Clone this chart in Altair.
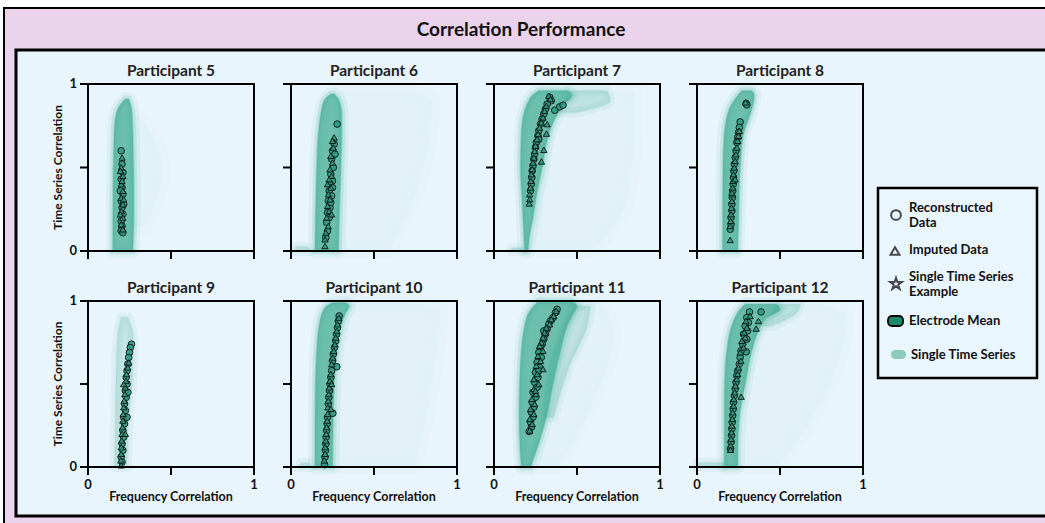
import altair as alt
import pandas as pd

# ---------------------------------------------------------------- data
participants = [5, 6, 7, 8, 9, 10, 11, 12]
tick_values = [0, 0.5, 1]
end_values = [0, 1]
end_labels = ["0", "1"]

# Dense core of the single-time-series cloud: y level, left edge, right edge
cloud_core = {
    5: dict(y=[0.0, 0.2, 0.4, 0.6, 0.75, 0.85, 0.91],
            xl=[0.15, 0.15, 0.152, 0.155, 0.16, 0.18, 0.225],
            xr=[0.27, 0.275, 0.275, 0.272, 0.268, 0.262, 0.245]),
    6: dict(y=[0.0, 0.2, 0.5, 0.7, 0.82, 0.9, 0.94],
            xl=[0.145, 0.148, 0.155, 0.165, 0.18, 0.2, 0.24],
            xr=[0.285, 0.29, 0.3, 0.305, 0.305, 0.29, 0.26]),
    7: dict(y=[0.0, 0.1, 0.2, 0.3, 0.5, 0.7, 0.8, 0.88, 0.93, 0.96],
            xl=[0.185, 0.18, 0.175, 0.17, 0.16, 0.165, 0.175, 0.2, 0.23, 0.27],
            xr=[0.205, 0.215, 0.235, 0.25, 0.29, 0.33, 0.37, 0.42, 0.47, 0.44]),
    8: dict(y=[0.0, 0.2, 0.5, 0.7, 0.85, 0.93, 0.96],
            xl=[0.155, 0.155, 0.157, 0.165, 0.195, 0.245, 0.27],
            xr=[0.245, 0.25, 0.26, 0.28, 0.33, 0.345, 0.33]),
    10: dict(y=[0.0, 0.2, 0.5, 0.7, 0.85, 0.93, 0.97, 0.99],
             xl=[0.145, 0.145, 0.148, 0.155, 0.17, 0.19, 0.215, 0.25],
             xr=[0.25, 0.252, 0.26, 0.275, 0.3, 0.33, 0.35, 0.33]),
    11: dict(y=[0.0, 0.1, 0.3, 0.5, 0.7, 0.85, 0.93, 0.97, 1.0],
             xl=[0.165, 0.158, 0.152, 0.155, 0.165, 0.185, 0.21, 0.24, 0.27],
             xr=[0.22, 0.255, 0.315, 0.355, 0.4, 0.44, 0.48, 0.5, 0.46]),
    12: dict(y=[0.0, 0.1, 0.3, 0.5, 0.7, 0.82, 0.9, 0.95, 0.98],
             xl=[0.165, 0.165, 0.165, 0.167, 0.18, 0.2, 0.23, 0.26, 0.29],
             xr=[0.245, 0.245, 0.255, 0.29, 0.33, 0.37, 0.42, 0.5, 0.48]),
}

# Thinner parts of the cloud (plateaus, weaker clusters, floor strips)
cloud_medium = {
    6: [dict(y=[0.0, 0.025], xl=[0.02, 0.03], xr=[0.12, 0.1])],
    7: [dict(y=[0.83, 0.9, 0.96], xl=[0.38, 0.42, 0.45], xr=[0.5, 0.7, 0.68]),
        dict(y=[0.0, 0.02], xl=[0.1, 0.11], xr=[0.18, 0.17])],
    9: [dict(y=[0.0, 0.3, 0.6, 0.8, 0.9],
             xl=[0.16, 0.165, 0.17, 0.18, 0.2],
             xr=[0.235, 0.245, 0.27, 0.27, 0.24])],
    10: [dict(y=[0.0, 0.025], xl=[0.05, 0.06], xr=[0.12, 0.11])],
    11: [dict(y=[0.3, 0.6, 0.85, 0.97], xl=[0.3, 0.33, 0.42, 0.48], xr=[0.36, 0.45, 0.56, 0.58])],
    12: [dict(y=[0.85, 0.93, 0.98], xl=[0.38, 0.45, 0.5], xr=[0.45, 0.6, 0.62]),
         dict(y=[0.0, 0.025], xl=[0.0, 0.0], xr=[0.17, 0.16])],
}

# Sparse haze of single time series far from the electrode mean
cloud_faint = {
    5: [dict(y=[0.15, 0.5, 0.8], xl=[0.27, 0.27, 0.26], xr=[0.35, 0.45, 0.32])],
    6: [dict(y=[0.01, 0.5, 0.9, 0.96], xl=[0.28, 0.29, 0.29, 0.3], xr=[0.6, 0.8, 0.85, 0.7])],
    7: [dict(y=[0.01, 0.3, 0.8, 0.96], xl=[0.22, 0.27, 0.33, 0.4], xr=[0.6, 0.8, 0.85, 0.85])],
    10: [dict(y=[0.01, 0.5, 0.95, 0.99], xl=[0.25, 0.26, 0.32, 0.34], xr=[0.75, 0.85, 0.9, 0.7])],
    11: [dict(y=[0.01, 0.4, 0.8, 0.99], xl=[0.24, 0.3, 0.4, 0.45], xr=[0.4, 0.6, 0.72, 0.65])],
    12: [dict(y=[0.01, 0.5, 0.9, 0.98], xl=[0.28, 0.29, 0.38, 0.48], xr=[0.5, 0.8, 0.9, 0.75])],
}

# Electrode means: reconstructed (circles) and imputed (triangles)
reconstructed = {
    5: dict(x=[0.20, 0.205, 0.21, 0.20, 0.205, 0.21, 0.20, 0.205, 0.21, 0.20, 0.205, 0.20, 0.21, 0.195, 0.215],
            y=[0.60, 0.52, 0.47, 0.43, 0.38, 0.34, 0.30, 0.26, 0.22, 0.18, 0.15, 0.12, 0.11, 0.36, 0.28]),
    6: dict(x=[0.278, 0.26, 0.25, 0.265, 0.245, 0.255, 0.24, 0.25, 0.235, 0.23, 0.245, 0.225, 0.235, 0.22,
               0.23, 0.215, 0.22, 0.21, 0.24, 0.25],
            y=[0.76, 0.64, 0.60, 0.58, 0.55, 0.50, 0.46, 0.42, 0.40, 0.36, 0.33, 0.30, 0.26, 0.23,
               0.20, 0.17, 0.12, 0.08, 0.29, 0.38]),
    7: dict(x=[0.336, 0.345, 0.32, 0.31, 0.30, 0.29, 0.28, 0.27, 0.265, 0.255, 0.25, 0.245, 0.24, 0.235,
               0.23, 0.228, 0.225, 0.22, 0.366, 0.396, 0.416, 0.27],
            y=[0.92, 0.90, 0.88, 0.85, 0.82, 0.79, 0.76, 0.72, 0.69, 0.65, 0.62, 0.58, 0.55, 0.51,
               0.48, 0.44, 0.40, 0.36, 0.843, 0.863, 0.873, 0.67]),
    8: dict(x=[0.296, 0.30, 0.26, 0.255, 0.25, 0.245, 0.24, 0.235, 0.23, 0.225, 0.222, 0.22, 0.218, 0.215,
               0.213, 0.21, 0.21, 0.205, 0.205, 0.20],
            y=[0.884, 0.875, 0.773, 0.74, 0.71, 0.68, 0.65, 0.60, 0.56, 0.52, 0.48, 0.44, 0.40, 0.36,
               0.32, 0.28, 0.24, 0.20, 0.16, 0.13]),
    9: dict(x=[0.262, 0.255, 0.25, 0.245, 0.24, 0.235, 0.23, 0.235, 0.225, 0.23, 0.22, 0.225, 0.215, 0.22,
               0.21, 0.215, 0.205, 0.21, 0.20, 0.205, 0.24, 0.235],
            y=[0.74, 0.72, 0.69, 0.66, 0.62, 0.58, 0.54, 0.50, 0.46, 0.42, 0.38, 0.34, 0.30, 0.26,
               0.22, 0.18, 0.14, 0.10, 0.06, 0.03, 0.45, 0.30]),
    10: dict(x=[0.29, 0.285, 0.28, 0.275, 0.27, 0.262, 0.255, 0.25, 0.276, 0.245, 0.24, 0.235, 0.232, 0.228,
                0.225, 0.252, 0.22, 0.218, 0.215, 0.212, 0.21, 0.208, 0.205, 0.202],
             y=[0.91, 0.88, 0.84, 0.80, 0.76, 0.72, 0.68, 0.64, 0.604, 0.58, 0.54, 0.50, 0.46, 0.42,
                0.38, 0.324, 0.30, 0.26, 0.22, 0.18, 0.14, 0.10, 0.06, 0.014]),
    11: dict(x=[0.38, 0.37, 0.355, 0.34, 0.33, 0.32, 0.31, 0.30, 0.29, 0.28, 0.27, 0.285, 0.26, 0.275,
                0.25, 0.265, 0.245, 0.26, 0.235, 0.25, 0.23, 0.24, 0.225, 0.235, 0.22, 0.225, 0.212,
                0.30, 0.27],
             y=[0.95, 0.93, 0.90, 0.88, 0.86, 0.83, 0.80, 0.77, 0.74, 0.72, 0.69, 0.66, 0.63, 0.60,
                0.57, 0.54, 0.51, 0.48, 0.45, 0.42, 0.39, 0.36, 0.33, 0.30, 0.27, 0.24, 0.214,
                0.82, 0.58]),
    12: dict(x=[0.316, 0.386, 0.30, 0.31, 0.29, 0.305, 0.28, 0.30, 0.275, 0.296, 0.265, 0.26, 0.255, 0.245,
                0.24, 0.235, 0.23, 0.225, 0.22, 0.218, 0.215, 0.212, 0.21, 0.208, 0.205, 0.202],
             y=[0.934, 0.934, 0.90, 0.87, 0.85, 0.82, 0.80, 0.77, 0.74, 0.694, 0.70, 0.66, 0.62, 0.58,
                0.55, 0.51, 0.47, 0.43, 0.39, 0.35, 0.31, 0.27, 0.23, 0.19, 0.15, 0.11]),
}

imputed = {
    5: dict(x=[0.205, 0.20, 0.21, 0.20, 0.21, 0.20, 0.21, 0.20, 0.21, 0.20, 0.21, 0.195, 0.205, 0.215, 0.195],
            y=[0.56, 0.50, 0.45, 0.40, 0.36, 0.32, 0.28, 0.24, 0.20, 0.16, 0.13, 0.48, 0.42, 0.31, 0.22]),
    6: dict(x=[0.26, 0.25, 0.255, 0.24, 0.25, 0.235, 0.245, 0.23, 0.24, 0.225, 0.235, 0.22, 0.23, 0.215,
               0.225, 0.21, 0.205, 0.205, 0.245, 0.22],
            y=[0.68, 0.66, 0.62, 0.57, 0.53, 0.49, 0.45, 0.43, 0.38, 0.34, 0.31, 0.27, 0.24, 0.20,
               0.15, 0.11, 0.07, 0.03, 0.22, 0.40]),
    7: dict(x=[0.33, 0.34, 0.315, 0.305, 0.295, 0.285, 0.275, 0.265, 0.26, 0.25, 0.245, 0.24, 0.235, 0.23,
               0.225, 0.222, 0.22, 0.215, 0.215, 0.212, 0.316, 0.30, 0.286, 0.32],
            y=[0.93, 0.91, 0.87, 0.84, 0.80, 0.77, 0.74, 0.70, 0.67, 0.63, 0.60, 0.56, 0.53, 0.49,
               0.46, 0.42, 0.38, 0.34, 0.31, 0.285, 0.703, 0.606, 0.536, 0.76]),
    8: dict(x=[0.292, 0.255, 0.25, 0.245, 0.24, 0.235, 0.23, 0.225, 0.22, 0.218, 0.215, 0.213, 0.21, 0.208,
               0.205, 0.203, 0.20, 0.20, 0.23, 0.21],
            y=[0.89, 0.72, 0.69, 0.66, 0.62, 0.58, 0.54, 0.50, 0.46, 0.42, 0.38, 0.34, 0.30, 0.26,
               0.22, 0.18, 0.15, 0.066, 0.43, 0.35]),
    9: dict(x=[0.245, 0.24, 0.232, 0.228, 0.225, 0.222, 0.218, 0.215, 0.212, 0.21, 0.208, 0.205, 0.203, 0.20,
               0.20, 0.198, 0.20, 0.225, 0.215],
            y=[0.63, 0.60, 0.56, 0.52, 0.48, 0.44, 0.40, 0.36, 0.32, 0.28, 0.24, 0.20, 0.16, 0.12,
               0.08, 0.04, 0.01, 0.20, 0.50]),
    10: dict(x=[0.288, 0.28, 0.275, 0.27, 0.265, 0.258, 0.252, 0.245, 0.24, 0.235, 0.23, 0.228, 0.225, 0.222,
                0.22, 0.218, 0.215, 0.212, 0.21, 0.205, 0.205, 0.20, 0.245, 0.24],
             y=[0.90, 0.86, 0.82, 0.78, 0.74, 0.70, 0.66, 0.62, 0.56, 0.52, 0.48, 0.44, 0.40, 0.36,
                0.32, 0.28, 0.24, 0.20, 0.16, 0.12, 0.08, 0.04, 0.50, 0.35]),
    11: dict(x=[0.375, 0.36, 0.345, 0.335, 0.315, 0.305, 0.295, 0.285, 0.275, 0.295, 0.265, 0.28, 0.255, 0.295,
                0.26, 0.24, 0.27, 0.24, 0.255, 0.228, 0.245, 0.22, 0.24, 0.215, 0.23, 0.215, 0.25],
             y=[0.94, 0.91, 0.89, 0.86, 0.84, 0.81, 0.78, 0.75, 0.73, 0.70, 0.67, 0.64, 0.61, 0.59,
                0.56, 0.53, 0.50, 0.47, 0.44, 0.41, 0.38, 0.35, 0.32, 0.29, 0.26, 0.22, 0.46]),
    12: dict(x=[0.356, 0.37, 0.32, 0.295, 0.30, 0.285, 0.29, 0.27, 0.28, 0.26, 0.265, 0.25, 0.245, 0.24,
                0.232, 0.228, 0.266, 0.222, 0.22, 0.215, 0.213, 0.21, 0.208, 0.205, 0.203, 0.202],
             y=[0.834, 0.88, 0.91, 0.88, 0.84, 0.81, 0.78, 0.76, 0.72, 0.69, 0.64, 0.60, 0.56, 0.53,
                0.49, 0.45, 0.424, 0.41, 0.37, 0.33, 0.29, 0.25, 0.21, 0.17, 0.13, 0.104]),
}

legend_labels = ["Reconstructed", "Data", "Imputed Data", "Single Time Series", "Example",
                 "Electrode Mean", "Single Time Series"]

# ---------------------------------------------------------------- style
FONT = "Lato"
PINK = "#ecd3ec"
BLUE = "#e9f5fc"
CLOUD = "#45ae95"
MARKER = "#2a9a7f"
MEAN_SWATCH = "#1b8a6c"
SINGLE_SWATCH = "#8ccabb"

W, H = 1045, 523
COL_X = [88, 291, 494, 697]
ROWS = [(84, 251), (301, 467)]
PW = 166
STAR = ("M0,-1L0.2245,-0.309L0.951,-0.309L0.363,0.118L0.588,0.809L0,0.382"
        "L-0.588,0.809L-0.363,0.118L-0.951,-0.309L-0.2245,-0.309Z")

one_row = pd.DataFrame({"k": [0]})


def pixel_rect(x, x2, y, y2, **mark):
    return alt.Chart(one_row).mark_rect(**mark).encode(
        x=alt.value(x), x2=alt.value(x2), y=alt.value(y), y2=alt.value(y2))


def pixel_text(txt, x, y, **mark):
    return alt.Chart(one_row).mark_text(font=FONT, **mark).encode(
        x=alt.value(x), y=alt.value(y), text=alt.value(txt))


layers = []

# frames and header
layers.append(pixel_rect(4, W + 20, 8, H + 20, fill=PINK, stroke="black", strokeWidth=2))
layers.append(pixel_rect(16, W + 20, 50, 516, fill=BLUE, stroke="black", strokeWidth=3))
layers.append(pixel_text("Correlation Performance", 521, 30, fontSize=19, fontWeight="bold",
                         color="#111111", align="center", baseline="middle"))


def band(df, xs, ys, fill_opacity, stroke_width, stroke_opacity):
    return alt.Chart(df).mark_area(
        orient="horizontal", interpolate="monotone", fill=CLOUD, fillOpacity=fill_opacity,
        stroke=CLOUD, strokeWidth=stroke_width, strokeOpacity=stroke_opacity, strokeJoin="round",
    ).encode(
        y=alt.Y("y:Q", scale=ys, axis=None),
        x=alt.X("xl:Q", scale=xs, axis=None),
        x2="xr:Q",
    )


for i, p in enumerate(participants):
    col, row = i % 4, i // 4
    x0 = COL_X[col]
    yt, yb = ROWS[row]
    xs = alt.Scale(domain=[0, 1], range=[x0, x0 + PW], nice=False, zero=False)
    ys = alt.Scale(domain=[0, 1], range=[yb, yt], nice=False, zero=False)

    # soft edges come from stacking wide translucent strokes under the fills
    for region in cloud_faint.get(p, []):
        layers.append(band(pd.DataFrame(region), xs, ys, 0.03, 16, 0.015))
    for region in cloud_medium.get(p, []):
        layers.append(band(pd.DataFrame(region), xs, ys, 0.14, 10, 0.07))
        layers.append(band(pd.DataFrame(region), xs, ys, 0.1, 3, 0.08))
    if p in cloud_core:
        core = pd.DataFrame(cloud_core[p])
        layers.append(band(core, xs, ys, 0.1, 14, 0.08))
        layers.append(band(core, xs, ys, 0.3, 7, 0.16))
        layers.append(band(core, xs, ys, 0.62, 2, 0.3))

    for shape, src, size in (("circle", reconstructed, 44), ("triangle-up", imputed, 40)):
        layers.append(alt.Chart(pd.DataFrame(src[p])).mark_point(
            shape=shape, filled=True, fill=MARKER, fillOpacity=0.9, stroke="#111111",
            strokeWidth=1.0, strokeOpacity=0.9, size=size,
        ).encode(x=alt.X("x:Q", scale=xs, axis=None), y=alt.Y("y:Q", scale=ys, axis=None)))

    # panel frame
    frame = pd.DataFrame({"x": [0], "x2": [1], "y": [0], "y2": [1]})
    layers.append(alt.Chart(frame).mark_rect(fillOpacity=0, stroke="black", strokeWidth=2).encode(
        x=alt.X("x:Q", scale=xs, axis=None), x2="x2:Q",
        y=alt.Y("y:Q", scale=ys, axis=None), y2="y2:Q"))

    ticks = pd.DataFrame({"v": tick_values})
    layers.append(alt.Chart(ticks).mark_rule(color="black", strokeWidth=2).encode(
        x=alt.X("v:Q", scale=xs, axis=None), y=alt.value(yb), y2=alt.value(yb + 8)))
    layers.append(alt.Chart(ticks).mark_rule(color="black", strokeWidth=2).encode(
        y=alt.Y("v:Q", scale=ys, axis=None), x=alt.value(x0 - 8), x2=alt.value(x0)))

    ends = pd.DataFrame({"v": end_values, "label": end_labels})
    if row == 1:
        layers.append(alt.Chart(ends).mark_text(
            font=FONT, fontSize=13, fontWeight="bold", color="#111111", baseline="middle").encode(
            x=alt.X("v:Q", scale=xs, axis=None), y=alt.value(yb + 18), text="label:N"))
        layers.append(pixel_text("Frequency Correlation", x0 + PW / 2, yb + 30, fontSize=12.5,
                                 fontWeight="bold", color="#111111", align="center",
                                 baseline="middle"))
    if col == 0:
        layers.append(alt.Chart(ends).mark_text(
            font=FONT, fontSize=13, fontWeight="bold", color="#111111", align="right",
            baseline="middle").encode(
            y=alt.Y("v:Q", scale=ys, axis=None), x=alt.value(x0 - 11), text="label:N"))
        layers.append(pixel_text("Time Series Correlation", 58, (yt + yb) / 2, fontSize=12,
                                 fontWeight="bold", color="#111111", align="center",
                                 baseline="middle", angle=270))

    layers.append(pixel_text(f"Participant {p}", x0 + PW / 2, yt - 13, fontSize=15.5,
                             fontWeight="bold", color="#222222", align="center",
                             baseline="middle"))

# legend
layers.append(pixel_rect(878, 1037, 188, 378, fill="#eaf6fd", stroke="black", strokeWidth=2.5))
for shape, x, y, size in (("circle", 896, 215, 95), ("triangle-up", 895, 251, 80), (STAR, 896, 284, 150)):
    layers.append(alt.Chart(one_row).mark_point(
        shape=shape, filled=False, stroke="black", strokeWidth=2, size=size).encode(
        x=alt.value(x), y=alt.value(y)))
layers.append(pixel_rect(888, 903, 316, 326, fill=MEAN_SWATCH, stroke="black", strokeWidth=1.8,
                         cornerRadius=4))
layers.append(pixel_rect(891, 906, 350, 359, fill=SINGLE_SWATCH, cornerRadius=4))
legend_pos = [(909, 208), (909, 223), (909, 250), (909, 277), (909, 292), (909, 321), (911, 355)]
for txt, (x, y) in zip(legend_labels, legend_pos):
    layers.append(pixel_text(txt, x, y, fontSize=13, fontWeight="bold", color="#111111",
                             align="left", baseline="middle"))

chart = alt.layer(*layers).resolve_scale(x="independent", y="independent").properties(
    width=W, height=H, autosize=alt.AutoSizeParams(type="none"), padding=0,
    background="white",
).configure_view(stroke=None)

chart.save("out.html", embed_options={"renderer": "svg", "actions": False})
